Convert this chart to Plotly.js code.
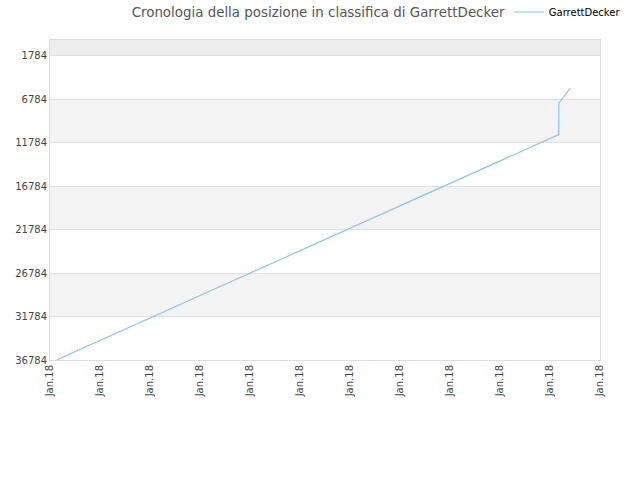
<!DOCTYPE html>
<html>
<head>
<meta charset="utf-8">
<script src="https://cdn.plot.ly/plotly-3.0.1.min.js"></script>
<style>
  body { margin: 0; background: #fff; }
  #chart { width: 640px; height: 480px; }
</style>
</head>
<body>
<div id="chart"></div>
<script>
// Data
var player = 'GarrettDecker';
var times = [
  '2018-01-01 03:22', '2018-01-11 04:10', '2018-01-11 04:11', '2018-01-11 04:12',
  '2018-01-11 04:13', '2018-01-11 04:14', '2018-01-11 04:15', '2018-01-11 05:08',
  '2018-01-11 07:12', '2018-01-11 09:36'
];
var ranks = [36750, 10880, 10100, 9200, 8400, 7700, 7250, 6990, 6330, 5560];
var rank_ticks = [1784, 6784, 11784, 16784, 21784, 26784, 31784, 36784];
var x_ticks = [
  '2018-01-01', '2018-01-02', '2018-01-03', '2018-01-04', '2018-01-05', '2018-01-06',
  '2018-01-07', '2018-01-08', '2018-01-09', '2018-01-10', '2018-01-11', '2018-01-12'
];

// Background bands between ticks
function draw_bands(ticks) {
  var shapes = [];
  shapes.push({
    type: 'rect', xref: 'paper', yref: 'y',
    x0: 0, x1: 1, y0: 0, y1: ticks[0],
    fillcolor: '#eeeeee', line: {width: 0}, layer: 'below'
  });
  for (let i = 1; i < ticks.length - 1; i += 2) {
    shapes.push({
      type: 'rect', xref: 'paper', yref: 'y',
      x0: 0, x1: 1, y0: ticks[i], y1: ticks[i + 1],
      fillcolor: '#f3f3f3', line: {width: 0}, layer: 'below'
    });
  }
  return shapes;
}

var trace1 = {
  x: times,
  y: ranks,
  name: player,
  type: 'scatter',
  mode: 'lines',
  line: {color: '#8cc0f5', width: 1.2},
  hoverinfo: 'x+y',
};

var layout = {
  width: 640,
  height: 480,
  margin: {l: 50, r: 40, t: 40, b: 120, autoexpand: false},
  paper_bgcolor: '#ffffff',
  plot_bgcolor: '#ffffff',
  font: {family: 'DejaVu Sans, sans-serif', size: 10, color: '#444'},
  title: {
    text: 'Cronologia della posizione in classifica di ' + player,
    font: {size: 13.4, color: '#555'},
    x: 0.497, xanchor: 'center', y: 0.975, yanchor: 'middle'
  },
  showlegend: true,
  legend: {
    xref: 'container', yref: 'container',
    x: 0.795, y: 0.975, xanchor: 'left', yanchor: 'middle',
    font: {size: 10, color: '#000'},
    bgcolor: 'rgba(0,0,0,0)'
  },
  shapes: draw_bands(rank_ticks),
  yaxis: {
    range: [36784, 0],
    tickmode: 'array',
    tickvals: rank_ticks,
    ticktext: rank_ticks.map(String),
    showgrid: true,
    gridcolor: '#e0e0e0',
    zeroline: false,
    showline: true,
    linecolor: '#dddddd',
    mirror: true,
    ticks: '',
    ticklen: 0,
    tickfont: {size: 10, color: '#444'},
    fixedrange: true,
  },
  xaxis: {
    type: 'date',
    range: [x_ticks[0], x_ticks[x_ticks.length - 1]],
    tickmode: 'array',
    tickvals: x_ticks,
    ticktext: x_ticks.map(function () { return 'Jan.18'; }),
    tickangle: -90,
    showgrid: false,
    zeroline: false,
    showline: true,
    linecolor: '#dddddd',
    mirror: true,
    ticks: '',
    tickfont: {size: 10, color: '#444'},
    fixedrange: true,
  },
};

var config = {displayModeBar: false, responsive: false};
Plotly.newPlot('chart', [trace1], layout, config);
</script>
</body>
</html>
